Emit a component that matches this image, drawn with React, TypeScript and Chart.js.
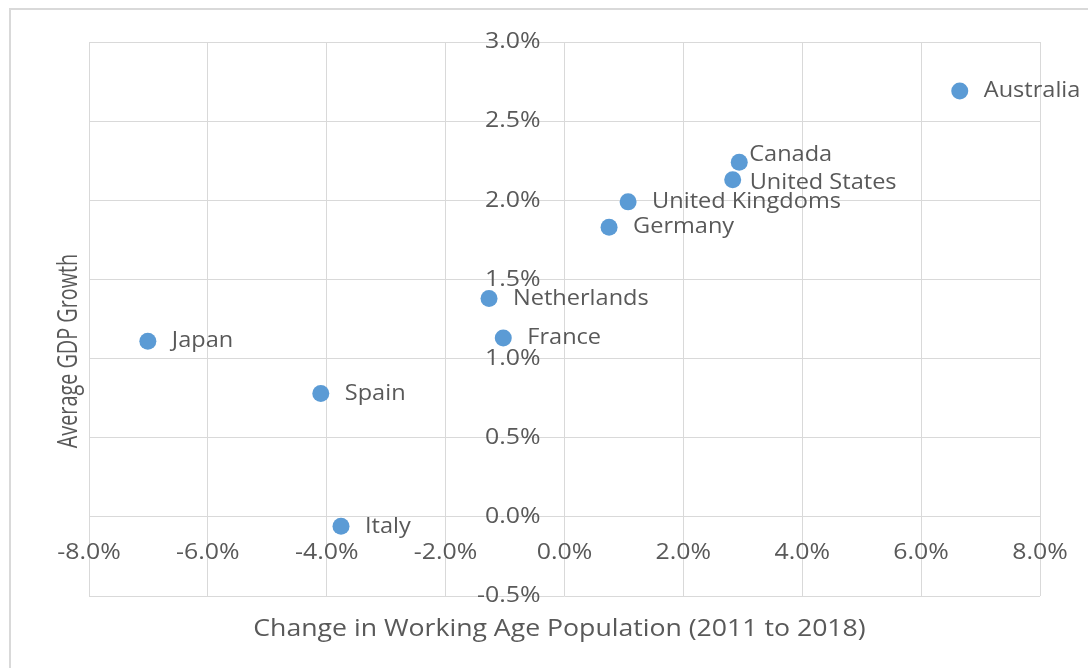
import React, { useEffect, useRef } from "react";
import { Chart, registerables } from "chart.js";

Chart.register(...registerables);

const countries = [
  "Australia",
  "Canada",
  "United States",
  "United Kingdoms",
  "Germany",
  "Netherlands",
  "France",
  "Japan",
  "Spain",
  "Italy",
];
const workingAgeChange = [6.65, 2.94, 2.83, 1.07, 0.75, -1.27, -1.03, -7.01, -4.1, -3.76];
const gdpGrowth = [2.69, 2.24, 2.13, 1.99, 1.83, 1.38, 1.13, 1.11, 0.78, -0.06];
const xTickValues = [-8, -6, -4, -2, 0, 2, 4, 6, 8];
const yTickValues = [-0.5, 0, 0.5, 1, 1.5, 2, 2.5, 3];
const xTitle = "Change in Working Age Population (2011 to 2018)";
const yTitle = "Average GDP Growth";

const FONT_FAMILY = '"Open Sans", "Noto Sans", sans-serif';
const TEXT_COLOR = "#595959";
const GRID_COLOR = "#d9d9d9";
const POINT_COLOR = "#5b9bd5";

// label nudges (pixels from point centre) for crowded labels
const labelNudge: Record<string, [number, number]> = {
  Canada: [10, -8],
  "United States": [17, 3],
};

const fmt = (v: number) => v.toFixed(1) + "%";

function drawText(
  ctx: CanvasRenderingContext2D,
  text: string,
  x: number,
  y: number,
  align: CanvasTextAlign,
  size: number,
  sx: number,
  sy = 1,
  rotation = 0
) {
  ctx.save();
  ctx.translate(x, y);
  if (rotation) ctx.rotate(rotation);
  ctx.scale(sx, sy);
  ctx.font = `${size}px ${FONT_FAMILY}`;
  ctx.fillStyle = TEXT_COLOR;
  ctx.textAlign = align;
  ctx.textBaseline = "middle";
  ctx.fillText(text, 0, 0);
  ctx.restore();
}

const overlayPlugin = {
  id: "overlayLabels",
  afterDatasetsDraw(chart: any) {
    const { ctx, chartArea } = chart;
    const xs = chart.scales.x;
    const ys = chart.scales.y;
    const x0 = xs.getPixelForValue(0);
    const y0 = ys.getPixelForValue(0);
    // y tick labels next to the vertical zero line
    ys.ticks.forEach((t: any) => {
      drawText(ctx, fmt(t.value), x0 - 24, ys.getPixelForValue(t.value), "right", 22, 1.13);
    });
    // x tick labels below the horizontal zero line
    xs.ticks.forEach((t: any) => {
      drawText(ctx, fmt(t.value), xs.getPixelForValue(t.value), y0 + 36, "center", 22, 1.13);
    });
    // data labels
    const meta = chart.getDatasetMeta(0);
    meta.data.forEach((pt: any, i: number) => {
      const name = countries[i];
      const [dx, dy] = labelNudge[name] ?? [24, 0];
      drawText(ctx, name, pt.x + dx, pt.y + dy, "left", 22, 1.07);
    });
    // axis titles
    const cx = (chartArea.left + chartArea.right) / 2;
    const cy = (chartArea.top + chartArea.bottom) / 2;
    drawText(ctx, xTitle, cx - 5, chartArea.bottom + 33, "center", 24, 1.11);
    drawText(ctx, yTitle, chartArea.left - 20, cy + 32, "center", 22, 0.9, 1.2, -Math.PI / 2);
  },
};

export default function App() {
  const canvasRef = useRef<HTMLCanvasElement | null>(null);

  useEffect(() => {
    if (!canvasRef.current) return;
    const chart = new Chart(canvasRef.current, {
      type: "scatter",
      data: {
        datasets: [
          {
            label: "Countries",
            data: workingAgeChange.map((x, i) => ({ x, y: gdpGrowth[i] })),
            backgroundColor: POINT_COLOR,
            borderWidth: 0,
            pointRadius: 8.5,
            pointHoverRadius: 8.5,
          },
        ],
      },
      options: {
        animation: false,
        responsive: false,
        maintainAspectRatio: false,
        events: [],
        layout: { padding: { left: 89, top: 42, right: 48, bottom: 72 } },
        plugins: {
          legend: { display: false },
          tooltip: { enabled: false },
        },
        scales: {
          x: {
            type: "linear",
            position: "bottom",
            min: -8,
            max: 8,
            afterBuildTicks: (scale: any) => {
              scale.ticks = xTickValues.map((value) => ({ value }));
            },
            grid: { color: GRID_COLOR, lineWidth: 1, drawTicks: false },
            border: { display: false },
            ticks: { display: false },
            title: { display: false },
          },
          y: {
            type: "linear",
            position: "left",
            min: -0.5,
            max: 3,
            afterBuildTicks: (scale: any) => {
              scale.ticks = yTickValues.map((value) => ({ value }));
            },
            grid: { color: GRID_COLOR, lineWidth: 1, drawTicks: false },
            border: { display: false },
            ticks: { display: false },
            title: { display: false },
          },
        },
      },
      plugins: [overlayPlugin],
    });
    return () => chart.destroy();
  }, []);

  return (
    <div
      style={{
        position: "fixed",
        left: 0,
        top: 0,
        width: 1088,
        height: 668,
        background: "#ffffff",
        overflow: "hidden",
      }}
    >
      <div
        style={{
          position: "absolute",
          left: 9,
          top: 8,
          width: 1200,
          height: 800,
          borderLeft: "2px solid #d9d9d9",
          borderTop: "2px solid #d9d9d9",
        }}
      />
      <canvas
        ref={canvasRef}
        width={1088}
        height={668}
        style={{ position: "absolute", left: 0, top: 0, width: 1088, height: 668 }}
      />
    </div>
  );
}
